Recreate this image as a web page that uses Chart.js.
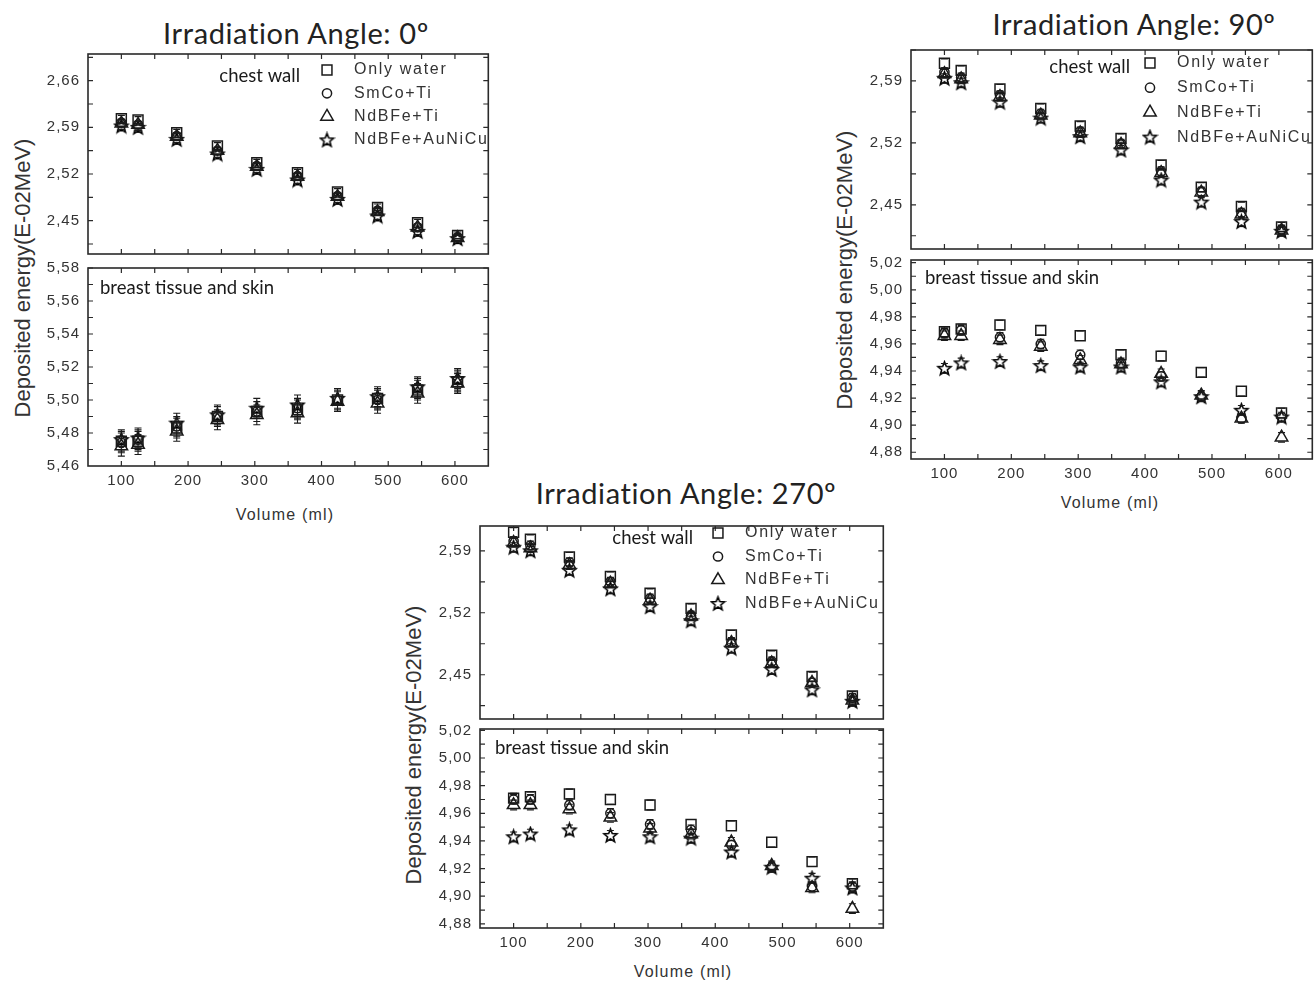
<!DOCTYPE html>
<html>
<head>
<meta charset="utf-8">
<script src="https://cdn.jsdelivr.net/npm/chart.js@4.4.0/dist/chart.umd.min.js"></script>
<style>
  body { margin: 0; background: #fff; }
  #page { position: relative; width: 1315px; height: 983px; overflow: hidden; background: #fff;
          font-family: "Liberation Sans", Arial, sans-serif; color: #333; }
  #page canvas { position: absolute; }
  .title { position: absolute; font-family: Lato, "Open Sans", sans-serif; font-size: 29px; letter-spacing: 0.6px;
           line-height: 1; color: #222; white-space: nowrap; transform: translate(-50%, -50%); }
  .ytitle { position: absolute; font-size: 22px; line-height: 1; color: #333; white-space: nowrap;
            transform: translate(-50%, -50%) rotate(-90deg); }
  .xtitle { position: absolute; font-size: 16px; line-height: 1; letter-spacing: 1.2px; color: #333;
            white-space: nowrap; transform: translate(-50%, -50%); }
</style>
</head>
<body>
<div id="page">
  <div class="title" style="left:296px;top:32px">Irradiation Angle: 0º</div>
  <div class="title" style="left:1134px;top:23px">Irradiation Angle: 90º</div>
  <div class="title" style="left:686px;top:492px">Irradiation Angle: 270º</div>
  <div class="ytitle" style="left:23px;top:278px">Deposited energy(E-02MeV)</div>
  <div class="ytitle" style="left:845px;top:270px">Deposited energy(E-02MeV)</div>
  <div class="ytitle" style="left:414px;top:745px">Deposited energy(E-02MeV)</div>
  <div class="xtitle" style="left:285px;top:515px">Volume (ml)</div>
  <div class="xtitle" style="left:1110px;top:503px">Volume (ml)</div>
  <div class="xtitle" style="left:683px;top:972px">Volume (ml)</div>
</div>
<script>
// Data
const volumes = [100, 125, 183, 244, 303, 364, 424, 484, 544, 604];
const seriesNames = ['Only water', 'SmCo+Ti', 'NdBFe+Ti', 'NdBFe+AuNiCu'];
const volumeTicks = [100, 200, 300, 400, 500, 600];
const chestTicks = [2.45, 2.52, 2.59, 2.66];
const breastTicks0 = [5.46, 5.48, 5.50, 5.52, 5.54, 5.56, 5.58];
const breastTicks = [4.88, 4.90, 4.92, 4.94, 4.96, 4.98, 5.00, 5.02];

// 0 degrees
const chest0Water = [2.603, 2.601, 2.582, 2.562, 2.537, 2.522, 2.493, 2.470, 2.447, 2.428];
const chest0SmCo  = [2.597, 2.594, 2.577, 2.555, 2.532, 2.517, 2.487, 2.465, 2.440, 2.425];
const chest0NdTi  = [2.596, 2.594, 2.576, 2.555, 2.531, 2.516, 2.486, 2.463, 2.440, 2.424];
const chest0NdAu  = [2.592, 2.590, 2.572, 2.550, 2.527, 2.511, 2.482, 2.457, 2.434, 2.423];
const breast0Water = [5.475, 5.475, 5.483, 5.490, 5.493, 5.494, 5.500, 5.501, 5.506, 5.511];
const breast0SmCo  = [5.474, 5.476, 5.484, 5.490, 5.493, 5.495, 5.500, 5.500, 5.507, 5.512];
const breast0NdTi  = [5.472, 5.473, 5.481, 5.488, 5.491, 5.492, 5.499, 5.498, 5.504, 5.510];
const breast0NdAu  = [5.476, 5.477, 5.486, 5.491, 5.495, 5.497, 5.501, 5.502, 5.508, 5.513];

// 90 degrees
const chest90Water = [2.610, 2.602, 2.581, 2.559, 2.539, 2.525, 2.495, 2.470, 2.448, 2.425];
const chest90SmCo  = [2.600, 2.594, 2.574, 2.553, 2.533, 2.519, 2.488, 2.465, 2.441, 2.422];
const chest90NdTi  = [2.598, 2.592, 2.572, 2.551, 2.531, 2.518, 2.486, 2.464, 2.439, 2.421];
const chest90NdAu  = [2.593, 2.588, 2.566, 2.548, 2.527, 2.512, 2.478, 2.453, 2.431, 2.420];
const breast90Water = [4.969, 4.971, 4.974, 4.970, 4.966, 4.952, 4.951, 4.939, 4.925, 4.909];
const breast90SmCo  = [4.968, 4.970, 4.965, 4.960, 4.952, 4.946, 4.936, 4.921, 4.905, 4.906];
const breast90NdTi  = [4.966, 4.966, 4.963, 4.958, 4.948, 4.945, 4.938, 4.922, 4.905, 4.891];
const breast90NdAu  = [4.942, 4.946, 4.947, 4.944, 4.943, 4.943, 4.932, 4.921, 4.911, 4.906];

// 270 degrees
const chest270Water = [2.611, 2.603, 2.583, 2.561, 2.542, 2.525, 2.495, 2.472, 2.448, 2.426];
const chest270SmCo  = [2.601, 2.596, 2.577, 2.555, 2.536, 2.517, 2.487, 2.465, 2.441, 2.424];
const chest270NdTi  = [2.599, 2.593, 2.574, 2.553, 2.534, 2.516, 2.486, 2.463, 2.441, 2.421];
const chest270NdAu  = [2.594, 2.590, 2.568, 2.547, 2.527, 2.511, 2.480, 2.456, 2.433, 2.420];
const breast270Water = [4.971, 4.972, 4.974, 4.970, 4.966, 4.952, 4.951, 4.939, 4.925, 4.909];
const breast270SmCo  = [4.970, 4.970, 4.966, 4.960, 4.952, 4.948, 4.937, 4.921, 4.907, 4.907];
const breast270NdTi  = [4.966, 4.966, 4.963, 4.957, 4.949, 4.945, 4.939, 4.922, 4.906, 4.891];
const breast270NdAu  = [4.943, 4.945, 4.948, 4.944, 4.943, 4.942, 4.932, 4.921, 4.913, 4.906];

// estimated half-length of the error bars
const chestErr = 0.005;
const breastErr0 = 0.006;
const breastErr = 0.0035;

const INK = '#1a1a1a';

// five point star marker
function makeStar() {
    const c = document.createElement('canvas');
    c.width = 17; c.height = 17;
    const g = c.getContext('2d');
    g.strokeStyle = '#000';
    g.lineWidth = 1.6;
    g.beginPath();
    for (let i = 0; i < 10; i++) {
        const r = i % 2 ? 3 : 7;
        const a = -Math.PI / 2 + i * Math.PI / 5;
        const px = 8.5 + r * Math.cos(a), py = 9 + r * Math.sin(a);
        i ? g.lineTo(px, py) : g.moveTo(px, py);
    }
    g.closePath();
    g.stroke();
    return c;
}
const star = makeStar();
const markers = [
    {pointStyle: 'rect', radius: 7},
    {pointStyle: 'circle', radius: 4.6},
    {pointStyle: 'triangle', radius: 7.2},
    {pointStyle: star, radius: 6}
];

const panels = [
    {frame: {x: 88, y: 54, w: 400, h: 200}, min: 2.40, max: 2.70, ticks: chestTicks, err: chestErr,
     series: [chest0Water, chest0SmCo, chest0NdTi, chest0NdAu], xLabels: false,
     label: {text: 'chest wall', x: 212, y: 22, align: 'right'}, legend: {x: 239, y: 16, gap: 23.3}},
    {frame: {x: 88, y: 268, w: 400, h: 198}, min: 5.46, max: 5.58, ticks: breastTicks0, err: breastErr0,
     series: [breast0Water, breast0SmCo, breast0NdTi, breast0NdAu], xLabels: true,
     label: {text: 'breast tissue and skin', x: 12, y: 20, align: 'left'}},
    {frame: {x: 911, y: 50, w: 401, h: 199}, min: 2.40, max: 2.625, ticks: chestTicks, err: chestErr,
     series: [chest90Water, chest90SmCo, chest90NdTi, chest90NdAu], xLabels: false,
     label: {text: 'chest wall', x: 219, y: 17, align: 'right'}, legend: {x: 239, y: 13, gap: 24.7}},
    {frame: {x: 911, y: 260, w: 401, h: 199}, min: 4.875, max: 5.022, ticks: breastTicks, err: breastErr,
     series: [breast90Water, breast90SmCo, breast90NdTi, breast90NdAu], xLabels: true,
     label: {text: 'breast tissue and skin', x: 14, y: 18, align: 'left'}},
    {frame: {x: 480, y: 526, w: 403, h: 193}, min: 2.40, max: 2.618, ticks: chestTicks, err: chestErr,
     series: [chest270Water, chest270SmCo, chest270NdTi, chest270NdAu], xLabels: false,
     label: {text: 'chest wall', x: 213, y: 12, align: 'right'}, legend: {x: 238, y: 7, gap: 23.5}},
    {frame: {x: 480, y: 729, w: 403, h: 199}, min: 4.877, max: 5.021, ticks: breastTicks, err: breastErr,
     series: [breast270Water, breast270SmCo, breast270NdTi, breast270NdAu], xLabels: true,
     label: {text: 'breast tissue and skin', x: 15, y: 19, align: 'left'}}
];

function drawMarker(ctx, m, x, y) {
    ctx.strokeStyle = INK;
    ctx.fillStyle = 'rgba(0,0,0,0)';
    ctx.lineWidth = 1.5;
    if (Chart.helpers && Chart.helpers.drawPoint) {
        Chart.helpers.drawPoint(ctx, {pointStyle: m.pointStyle, radius: m.radius, borderWidth: 1.5, rotation: 0}, x, y);
    }
}

// frame, inward ticks, error bars and in-plot texts
const framePlugin = {
    id: 'frame',
    beforeDraw(chart) {
        chart.ctx.letterSpacing = '1px';
    },
    afterDatasetsDraw(chart, args, opts) {
        const {ctx, scales: {x, y}} = chart;
        ctx.save();
        ctx.strokeStyle = INK;
        ctx.lineWidth = 1.1;
        ctx.beginPath();
        chart.data.datasets.forEach(ds => ds.data.forEach(p => {
            const px = x.getPixelForValue(p.x);
            const py = y.getPixelForValue(p.y);
            const top = y.getPixelForValue(p.y + opts.err);
            const bot = y.getPixelForValue(p.y - opts.err);
            if (py - top > 5) { ctx.moveTo(px, py - 5); ctx.lineTo(px, top); }
            if (bot - py > 5) { ctx.moveTo(px, py + 5); ctx.lineTo(px, bot); }
            ctx.moveTo(px - 3.5, top); ctx.lineTo(px + 3.5, top);
            ctx.moveTo(px - 3.5, bot); ctx.lineTo(px + 3.5, bot);
        }));
        ctx.stroke();
        ctx.restore();
    },
    afterDraw(chart, args, opts) {
        const {ctx, chartArea: a, scales: {x, y}} = chart;
        ctx.save();
        ctx.letterSpacing = '0px';
        ctx.strokeStyle = '#2a2a2a';
        ctx.lineWidth = 1.6;
        ctx.strokeRect(a.left, a.top, a.right - a.left, a.bottom - a.top);

        // inward ticks, major and minor
        const xs = [];
        volumeTicks.forEach((v, i) => {
            xs.push(v);
            if (i < volumeTicks.length - 1) xs.push((v + volumeTicks[i + 1]) / 2);
        });
        const step = opts.ticks[1] - opts.ticks[0];
        const ys = [];
        for (let v = opts.ticks[0] - step / 2; v <= y.max + 1e-9; v += step / 2) {
            if (v >= y.min) ys.push(v);
        }
        ctx.lineWidth = 1.2;
        ctx.beginPath();
        xs.forEach(v => {
            const px = x.getPixelForValue(v);
            ctx.moveTo(px, a.top); ctx.lineTo(px, a.top + 5);
            ctx.moveTo(px, a.bottom); ctx.lineTo(px, a.bottom - 5);
        });
        ys.forEach(v => {
            const py = y.getPixelForValue(v);
            ctx.moveTo(a.left, py); ctx.lineTo(a.left + 5, py);
            ctx.moveTo(a.right, py); ctx.lineTo(a.right - 5, py);
        });
        ctx.stroke();

        // panel label
        ctx.fillStyle = INK;
        ctx.font = '18.5px Lato, "Open Sans", sans-serif';
        ctx.textBaseline = 'middle';
        ctx.textAlign = opts.label.align;
        ctx.fillText(opts.label.text, a.left + opts.label.x, a.top + opts.label.y);

        // legend
        if (opts.legend) {
            const lg = opts.legend;
            seriesNames.forEach((name, i) => {
                const ly = a.top + lg.y + i * lg.gap;
                drawMarker(ctx, markers[i], a.left + lg.x, ly);
                ctx.fillStyle = '#333';
                ctx.font = '16px "Liberation Sans", Arial, sans-serif';
                ctx.letterSpacing = '1.7px';
                ctx.textAlign = 'left';
                ctx.textBaseline = 'middle';
                ctx.fillText(name, a.left + lg.x + 27, ly);
                ctx.letterSpacing = '0px';
            });
        }
        ctx.restore();
    }
};

const page = document.getElementById('page');
const tickFont = {family: '"Liberation Sans", Arial, sans-serif', size: 15};

function buildPanel(p, extraW, extraH) {
    const f = p.frame;
    const canvas = document.createElement('canvas');
    const bottomSpace = p.xLabels ? 32 : 12;
    canvas.width = f.w + 74 + extraW;
    canvas.height = f.h + 12 + bottomSpace + extraH;
    canvas.style.left = (f.x - 70) + 'px';
    canvas.style.top = (f.y - 12) + 'px';
    page.appendChild(canvas);

    const chart = new Chart(canvas.getContext('2d'), {
        type: 'scatter',
        data: {
            datasets: p.series.map((vals, i) => ({
                label: seriesNames[i],
                data: volumes.map((v, j) => ({x: v, y: vals[j]})),
                pointStyle: markers[i].pointStyle,
                pointRadius: markers[i].radius,
                borderColor: INK,
                backgroundColor: 'rgba(0,0,0,0)',
                borderWidth: 1.5
            }))
        },
        options: {
            responsive: false,
            animation: false,
            events: [],
            layout: {padding: {left: 0, right: 4, top: 12, bottom: p.xLabels ? 0 : 12}},
            plugins: {
                legend: {display: false},
                tooltip: {enabled: false},
                frame: {err: p.err, ticks: p.ticks, label: p.label, legend: p.legend}
            },
            scales: {
                x: {
                    type: 'linear', min: 50, max: 650,
                    grid: {display: false, drawTicks: false},
                    border: {display: false},
                    afterBuildTicks: s => { s.ticks = volumeTicks.map(v => ({value: v})); },
                    afterFit: s => {
                        s.height = p.xLabels ? 32 : 0;
                        s.paddingLeft = 0; s.paddingRight = 0;
                    },
                    ticks: {display: p.xLabels, autoSkip: false, maxRotation: 0, padding: 6, color: '#333', font: tickFont}
                },
                y: {
                    type: 'linear', min: p.min, max: p.max,
                    grid: {display: false, drawTicks: false},
                    border: {display: false},
                    afterBuildTicks: s => {
                        s.ticks = p.ticks.filter(v => v >= p.min - 1e-9 && v <= p.max + 1e-9).map(v => ({value: v}));
                    },
                    afterFit: s => {
                        s.width = 70;
                        s.paddingTop = 0; s.paddingBottom = 0;
                    },
                    ticks: {
                        autoSkip: false, padding: 8, color: '#333', font: tickFont,
                        callback: v => v.toFixed(2).replace('.', ',')
                    }
                }
            }
        },
        plugins: [framePlugin]
    });
    return {chart, canvas};
}

panels.forEach(p => {
    let built = buildPanel(p, 0, 0);
    const area = built.chart.chartArea;
    const dw = p.frame.w - (area.right - area.left);
    const dh = p.frame.h - (area.bottom - area.top);
    if (Math.abs(dw) > 0.5 || Math.abs(dh) > 0.5) {
        built.chart.destroy();
        built.canvas.remove();
        buildPanel(p, Math.round(dw), Math.round(dh));
    }
});
</script>
</body>
</html>
